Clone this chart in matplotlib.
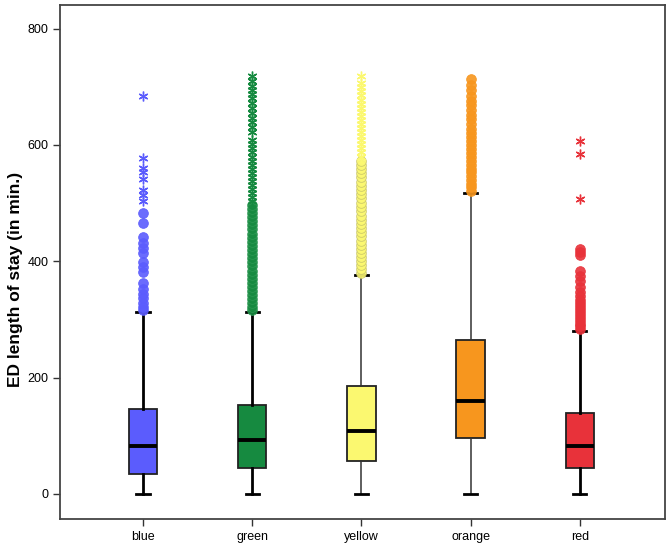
import numpy as np
import matplotlib
matplotlib.use("Agg")
import matplotlib.pyplot as plt

plt.rcParams['font.family'] = ['Liberation Sans', 'DejaVu Sans']

# groups and colours
categories = ["blue", "green", "yellow", "orange", "red"]
colors = ["#5b5cfd", "#168a40", "#fbf870", "#f7961e", "#e8323a"]
flier_edges = ["#5b5cfd", "#2f9a55", "#c9c66a", "#f7961e", "#e8323a"]

# box statistics (minutes)
q1 = [34, 45, 57, 96, 44]
med = [83, 93, 108, 160, 83]
q3 = [146, 153, 185, 265, 139]
whislo = [0, 0, 0, 0, 0]
whishi = [313, 313, 377, 518, 280]

# mild outliers (circles)
out_blue = [316, 321, 328, 336, 344, 353, 362, 382, 390, 399, 415, 422, 432, 442, 465, 483]
out_green = [316, 322, 329, 335, 342, 349, 356, 362, 370, 377, 384, 391, 398, 405, 412,
             419, 426, 433, 440, 447, 455, 462, 469, 476, 483, 490, 497]
out_yellow = [380, 387, 393, 400, 407, 414, 421, 428, 435, 443, 450, 457, 464, 471, 478,
              486, 493, 500, 508, 515, 522, 529, 537, 544, 551, 558, 566, 573]
out_orange = [521, 527, 533, 540, 546, 553, 559, 566, 572, 579, 586, 593, 600, 607, 614,
              621, 628, 636, 645, 652, 660, 668, 676, 684, 694, 703, 713]
out_red = [283, 288, 293, 298, 303, 308, 313, 318, 323, 328, 334, 340, 347, 356, 366,
           375, 384, 410, 416, 421]

# extreme outliers (stars)
ext_blue = [504, 514, 522, 541, 554, 560, 577, 684]
ext_green = [503, 510, 517, 524, 531, 538, 545, 552, 559, 566, 573, 580, 587, 594, 601,
             609, 623, 631, 639, 647, 655, 663, 672, 680, 687, 694, 702, 710, 718]
ext_yellow = [580, 587, 594, 601, 608, 615, 622, 629, 636, 643, 650, 657, 664, 671, 678,
              685, 692, 699, 706, 718]
ext_orange = []
ext_red = [507, 584, 607]

outliers = [out_blue, out_green, out_yellow, out_orange, out_red]
extremes = [ext_blue, ext_green, ext_yellow, ext_orange, ext_red]

fig = plt.figure(figsize=(6.70, 5.45), dpi=100)
ax = fig.add_axes([0.0896, 0.0477, 0.9029, 0.9437])

stats = []
for i, name in enumerate(categories):
    stats.append(dict(label=name, q1=q1[i], med=med[i], q3=q3[i],
                      whislo=whislo[i], whishi=whishi[i], fliers=[]))

pos = np.arange(1, len(categories) + 1)
bp = ax.bxp(stats, positions=pos, widths=0.26, patch_artist=True,
            showfliers=False, capwidths=0.12)

for i, c in enumerate(colors):
    bp['boxes'][i].set_facecolor(c)
    bp['boxes'][i].set_edgecolor("#222222")
    bp['boxes'][i].set_linewidth(1.3)
    bp['medians'][i].set_color("black")
    bp['medians'][i].set_linewidth(2.8)
    thin = categories[i] in ("yellow", "orange")
    for w in bp['whiskers'][2 * i:2 * i + 2]:
        w.set_color("#333333" if thin else "black")
        w.set_linewidth(1.1 if thin else 2)
    for cp in bp['caps'][2 * i:2 * i + 2]:
        cp.set_color("black")
        cp.set_linewidth(2)

# outliers drawn above boxes
for i, c in enumerate(colors):
    if outliers[i]:
        ax.plot([pos[i]] * len(outliers[i]), outliers[i], linestyle="none",
                marker="o", markersize=7, markerfacecolor=c,
                markeredgecolor=flier_edges[i], markeredgewidth=0.6, alpha=0.9, zorder=3)
    if extremes[i]:
        ax.plot([pos[i]] * len(extremes[i]), extremes[i], linestyle="none",
                marker=(6, 2, 0), markersize=7, color=c,
                markeredgewidth=1.0, zorder=3)

ax.set_xlim(0.24, 5.78)
ax.set_ylim(-43, 841)
ax.set_yticks([0, 200, 400, 600, 800])
ax.set_xticks(pos)
ax.set_xticklabels(categories)
ax.tick_params(axis="both", labelsize=9, length=5, width=1, color="#333333")
ax.set_ylabel("ED length of stay (in min.)", fontsize=12.5, fontweight="bold")
ax.yaxis.set_label_coords(-0.062, 0.465)
for s in ax.spines.values():
    s.set_color("#444444")
    s.set_linewidth(1.3)

fig.savefig("out.png", dpi=100)
